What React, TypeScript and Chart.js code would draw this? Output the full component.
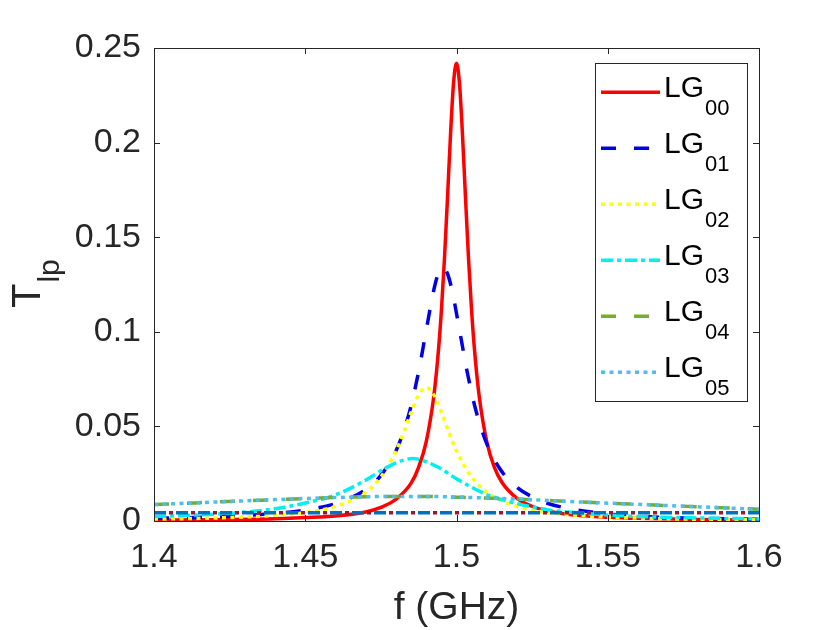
import React, { useEffect, useRef } from 'react';
import { Chart, registerables, Plugin } from 'chart.js';

Chart.register(...registerables);

// axis ticks
const xTicks = [1.4, 1.45, 1.5, 1.55, 1.6];
const yTicks = [0, 0.05, 0.1, 0.15, 0.2, 0.25];

// LG00 (red, solid)
const freq00 = [1.4, 1.42, 1.44, 1.45, 1.46, 1.47, 1.475, 1.48, 1.485, 1.4875, 1.49, 1.4925, 1.494, 1.495, 1.496, 1.497, 1.498, 1.499, 1.5, 1.501, 1.502, 1.503, 1.504, 1.505, 1.506, 1.5075, 1.51, 1.5125, 1.515, 1.52, 1.525, 1.53, 1.54, 1.55, 1.56, 1.58, 1.6];
const lg00 = [0.0004, 0.0007, 0.0012, 0.0018, 0.0027, 0.0048, 0.0072, 0.0115, 0.02, 0.0285, 0.042, 0.066, 0.0896, 0.111, 0.138, 0.17, 0.2035, 0.231, 0.242, 0.231, 0.2035, 0.17, 0.138, 0.111, 0.0896, 0.066, 0.042, 0.0285, 0.0205, 0.012, 0.0078, 0.0053, 0.003, 0.002, 0.0014, 0.0008, 0.0005];

// LG01 (blue, dashed)
const freq01 = [1.4, 1.42, 1.44, 1.45, 1.46, 1.47, 1.475, 1.48, 1.4825, 1.485, 1.4875, 1.49, 1.4925, 1.494, 1.4955, 1.497, 1.4985, 1.501, 1.5035, 1.506, 1.5085, 1.511, 1.515, 1.52, 1.525, 1.53, 1.54, 1.55, 1.56, 1.58, 1.6];
const lg01 = [0.0014, 0.0022, 0.004, 0.0058, 0.0092, 0.0166, 0.0241, 0.0371, 0.0473, 0.061, 0.0791, 0.1009, 0.1221, 0.1308, 0.134, 0.1308, 0.1221, 0.1009, 0.0791, 0.061, 0.0473, 0.0371, 0.0261, 0.0178, 0.0128, 0.0094, 0.0058, 0.0038, 0.0025, 0.0014, 0.0009];

// LG02 (yellow, dotted)
const freq02 = [1.4, 1.42, 1.44, 1.45, 1.46, 1.47, 1.475, 1.48, 1.4825, 1.485, 1.4875, 1.49, 1.4925, 1.495, 1.4975, 1.5, 1.505, 1.51, 1.515, 1.52, 1.53, 1.54, 1.55, 1.56, 1.58, 1.6];
const lg02 = [0.001, 0.0016, 0.003, 0.0045, 0.0077, 0.0152, 0.0232, 0.037, 0.0467, 0.0575, 0.0667, 0.0705, 0.0667, 0.0575, 0.0467, 0.037, 0.0232, 0.0152, 0.0106, 0.0077, 0.0045, 0.003, 0.0021, 0.0015, 0.0009, 0.0006];

// LG03 (cyan, dash-dot)
const freq03 = [1.4, 1.42, 1.43, 1.44, 1.45, 1.46, 1.47, 1.4775, 1.4855, 1.4935, 1.5, 1.51, 1.52, 1.53, 1.54, 1.55, 1.56, 1.58, 1.6];
const lg03 = [0.0024, 0.0036, 0.0047, 0.0065, 0.0095, 0.0138, 0.0216, 0.0288, 0.033, 0.0288, 0.0223, 0.014, 0.0092, 0.006, 0.0043, 0.0032, 0.0024, 0.0016, 0.0011];

// LG04 / LG05 (nearly flat, overlapping)
const freq04 = [1.4, 1.42, 1.44, 1.46, 1.48, 1.49, 1.5, 1.52, 1.54, 1.56, 1.58, 1.6];
const lg04 = [0.0087, 0.01, 0.0113, 0.0124, 0.013, 0.013, 0.0126, 0.0116, 0.0101, 0.0088, 0.0075, 0.0062];
const lg05 = [0.0087, 0.01, 0.0113, 0.0124, 0.013, 0.013, 0.0126, 0.0116, 0.0101, 0.0088, 0.0075, 0.0062];

// two unlabelled flat lines near the bottom
const freqFlat = [1.4, 1.6];
const flatBlue = [0.0043, 0.0043];
const flatRed = [0.0043, 0.0043];

const FONT = '"Liberation Sans", Arial, Helvetica, sans-serif';
const INK = '#262626';

interface Series {
    sub: string | null;
    freqs: number[];
    values: number[];
    color: string;
    dash: number[];
    dashOffset?: number;
}

const series: Series[] = [
    { sub: '00', freqs: freq00, values: lg00, color: '#FF0000', dash: [] },
    { sub: '01', freqs: freq01, values: lg01, color: '#0000E6', dash: [15, 18] },
    { sub: '02', freqs: freq02, values: lg02, color: '#FFFF00', dash: [4, 4.5] },
    { sub: '03', freqs: freq03, values: lg03, color: '#00F0F0', dash: [12, 4, 4, 4] },
    { sub: '04', freqs: freq04, values: lg04, color: '#77AC30', dash: [15, 18] },
    { sub: '05', freqs: freq04, values: lg05, color: '#4DBEEE', dash: [4, 4.5] },
    { sub: null, freqs: freqFlat, values: flatBlue, color: '#0072BD', dash: [12, 10] },
    { sub: null, freqs: freqFlat, values: flatRed, color: '#A2142F', dash: [4, 18], dashOffset: -15 },
];

const drawSubscripted = (
    ctx: CanvasRenderingContext2D, main: string, sub: string,
    x: number, y: number, mainSize: number, subSize: number, drop: number
) => {
    ctx.font = `${mainSize}px ${FONT}`;
    ctx.fillText(main, x, y);
    const w = ctx.measureText(main).width;
    ctx.font = `${subSize}px ${FONT}`;
    ctx.fillText(sub, x + w + 1, y + drop);
};

// MATLAB-style box, inward ticks, axis titles and legend
const matlabFrame: Plugin<'line'> = {
    id: 'matlabFrame',
    afterDraw(chart) {
        const { ctx, chartArea: a, scales } = chart;
        const xs = scales.x;
        const ys = scales.y;
        ctx.save();

        ctx.strokeStyle = INK;
        ctx.lineWidth = 1;
        ctx.setLineDash([]);
        ctx.strokeRect(a.left + 0.5, a.top + 0.5, a.right - a.left, a.bottom - a.top);
        ctx.beginPath();
        xTicks.forEach((v) => {
            const px = Math.round(xs.getPixelForValue(v)) + 0.5;
            ctx.moveTo(px, a.bottom);
            ctx.lineTo(px, a.bottom - 6);
            ctx.moveTo(px, a.top);
            ctx.lineTo(px, a.top + 6);
        });
        yTicks.forEach((v) => {
            const py = Math.round(ys.getPixelForValue(v)) + 0.5;
            ctx.moveTo(a.left, py);
            ctx.lineTo(a.left + 6, py);
            ctx.moveTo(a.right, py);
            ctx.lineTo(a.right - 6, py);
        });
        ctx.stroke();

        // x title
        ctx.fillStyle = INK;
        ctx.textAlign = 'center';
        ctx.textBaseline = 'alphabetic';
        ctx.font = `39px ${FONT}`;
        ctx.fillText('f (GHz)', (a.left + a.right) / 2, 619);

        // y title, rotated
        ctx.save();
        ctx.translate(40, 308);
        ctx.rotate(-Math.PI / 2);
        ctx.textAlign = 'left';
        drawSubscripted(ctx, 'T', 'lp', 0, 0, 40, 30, 18.5);
        ctx.restore();

        // legend
        const box = { left: 595.5, top: 63.5, right: 747.5, bottom: 401.5 };
        ctx.fillStyle = '#FFFFFF';
        ctx.fillRect(box.left, box.top, box.right - box.left, box.bottom - box.top);
        ctx.strokeStyle = INK;
        ctx.lineWidth = 1;
        ctx.strokeRect(box.left, box.top, box.right - box.left, box.bottom - box.top);

        const labelled = series.filter((s) => s.sub !== null);
        labelled.forEach((s, i) => {
            const yRow = 92.3 + i * 56;
            ctx.beginPath();
            ctx.strokeStyle = s.color;
            ctx.lineWidth = 3.5;
            ctx.setLineDash(s.dash);
            ctx.moveTo(601, yRow);
            ctx.lineTo(660, yRow);
            ctx.stroke();
            ctx.setLineDash([]);
            ctx.fillStyle = '#000000';
            ctx.textAlign = 'left';
            ctx.textBaseline = 'alphabetic';
            drawSubscripted(ctx, 'LG', s.sub as string, 664, yRow + 4.5, 30, 22, 18.3);
        });

        ctx.restore();
    },
};

const App: React.FC = () => {
    const canvasRef = useRef<HTMLCanvasElement>(null);

    useEffect(() => {
        document.body.style.margin = '0';
        const canvas = canvasRef.current;
        if (!canvas) return;

        const chart = new Chart(canvas, {
            type: 'line',
            data: {
                datasets: series.map((s, i) => ({
                    label: s.sub ?? '',
                    data: s.freqs.map((f, k) => ({ x: f, y: s.values[k] })),
                    borderColor: s.color,
                    borderWidth: 3.5,
                    borderDash: s.dash,
                    borderDashOffset: s.dashOffset ?? 0,
                    borderCapStyle: 'butt',
                    pointRadius: 0,
                    cubicInterpolationMode: 'monotone',
                    fill: false,
                    // MATLAB draws later lines on top
                    order: series.length - i,
                })),
            },
            options: {
                responsive: false,
                animation: false,
                devicePixelRatio: 1,
                layout: { padding: { top: 48, right: 81, bottom: 0, left: 0 } },
                plugins: {
                    legend: { display: false },
                    tooltip: { enabled: false },
                },
                scales: {
                    x: {
                        type: 'linear',
                        min: 1.4,
                        max: 1.6,
                        grid: { display: false, drawTicks: false },
                        border: { display: false },
                        ticks: {
                            color: INK,
                            font: { family: FONT, size: 34 },
                            padding: 16,
                            maxRotation: 0,
                            autoSkip: false,
                            callback: (v) => String(v),
                        },
                        afterBuildTicks: (scale) => {
                            scale.ticks = xTicks.map((v) => ({ value: v }));
                        },
                        afterFit: (scale) => {
                            scale.height = 109;
                        },
                    },
                    y: {
                        type: 'linear',
                        min: 0,
                        max: 0.25,
                        grid: { display: false, drawTicks: false },
                        border: { display: false },
                        ticks: {
                            color: INK,
                            font: { family: FONT, size: 34 },
                            padding: 13,
                            autoSkip: false,
                            callback: (v) => String(v),
                        },
                        afterBuildTicks: (scale) => {
                            scale.ticks = yTicks.map((v) => ({ value: v }));
                        },
                        afterFit: (scale) => {
                            scale.width = 154;
                        },
                    },
                },
            },
            plugins: [matlabFrame],
        });

        return () => {
            chart.destroy();
        };
    }, []);

    return (
        <div style={{ width: 840, height: 630, background: '#FFFFFF' }}>
            <canvas ref={canvasRef} width={840} height={630} style={{ display: 'block' }} />
        </div>
    );
};

export default App;
